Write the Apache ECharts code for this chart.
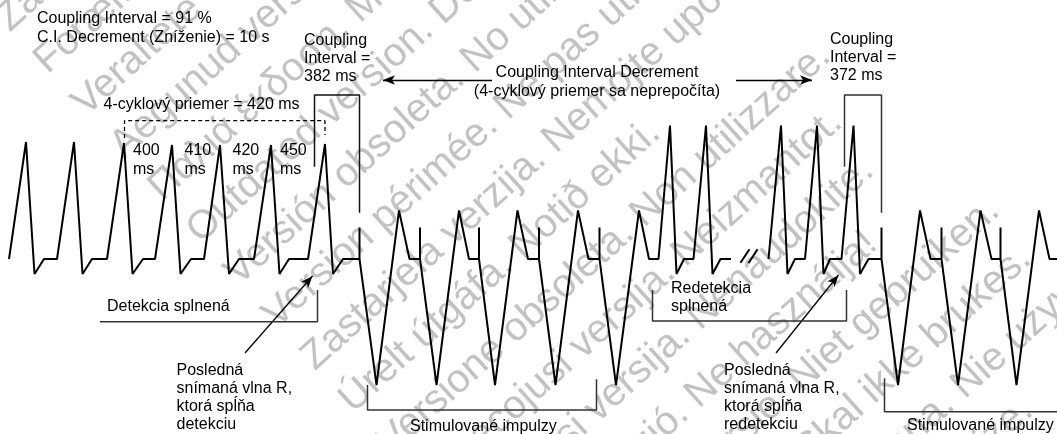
<!DOCTYPE html>
<html>
<head>
<meta charset="utf-8">
<script src="https://cdn.jsdelivr.net/npm/echarts@6.0.0/dist/echarts.min.js"></script>
<style>
  html, body { margin: 0; padding: 0; background: #fff; }
  #chart { width: 1057px; height: 434px; }
</style>
</head>
<body>
<div id="chart"></div>
<script>
// time along the strip / amplitude above the baseline (0 = baseline)
const traceBeforeBreak = [
  [9, 0],
  [26, 117], [34.5, -15], [44, 0], [57, 0],
  [74, 117], [82.5, -15], [92, 0], [107, 0],
  [124, 116], [132.5, -15], [143, 0], [155, 0],
  [172, 114], [180.5, -15], [191, 0], [204, 0],
  [220, 114], [229, -15], [239, 0], [254, 0],
  [271, 114], [279.5, -15], [289, 0], [308, 0],
  [325, 115], [333, -15], [343, 0], [359.5, 0],
  [359.5, 31.5], [359.5, 0], [376.5, -126], [399, 48.5], [409.5, 0], [420, 0],
  [420, 31.5], [420, 0], [436.5, -126], [459, 48.5], [469, 0], [479, 0],
  [479, 31.5], [479, 0], [495, -126], [517.5, 48.5], [528, 0], [539, 0],
  [539, 31.5], [539, 0], [555.5, -126], [578, 48.5], [588.5, 0], [599.5, 0],
  [599.5, 31.5], [599.5, 0], [616, -126], [639, 48.5], [649, 0], [658.5, 0],
  [670, 133.5], [676.5, -15], [684, 0], [693.5, 0],
  [706, 133.5], [712.5, -15], [720.5, 0], [731, 0]
];

const traceAfterBreak = [
  [768.5, 0], [781, 133.5], [787.5, -15], [795, 0], [805, 0],
  [817, 133.5], [823.5, -15], [830, 0], [841.5, 0],
  [853.5, 133.5], [860, -15], [868.5, 0], [881.5, 0],
  [881.5, 31.5], [881.5, 0], [898, -126], [920, 48.5], [930.5, 0], [941.5, 0],
  [941.5, 31.5], [941.5, 0], [958, -126], [980.5, 48.5], [991.5, 0], [1000.5, 0],
  [1000.5, 31.5], [1000.5, 0], [1016.5, -126], [1039, 48.5], [1049.5, 0], [1057, 0]
];

const breakMarkA = [[740.5, -3.7], [749.5, 9.7]];
const breakMarkB = [[748.5, -4.3], [757.5, 9.7]];

// brackets
const bracket382 = [[314.5, 92.3], [314.5, 164], [359.5, 164], [359.5, 46.3]];
const bracket372 = [[844.5, 92.3], [844.5, 164], [881.5, 164], [881.5, 46.3]];
const avgBracket = [[124.5, 121], [124.5, 138.3], [325, 138.3], [325, 124]];
const detectBracket = [[100, -62.7], [317.5, -62.7], [317.5, -31]];
const redetectBracket = [[652.5, -31], [652.5, -62], [846.5, -62], [846.5, -31]];
const pacedBracket1 = [[367.5, -126], [367.5, -151], [596.5, -151], [596.5, -120.3]];
const pacedBracket2 = [[884.5, -119.3], [884.5, -152.7], [1057, -152.7]];

// arrows: [from, to]
const arrows = [
  [[492, 179], [383, 179]],
  [[736, 179], [812, 179]],
  [[245, -94], [312.5, -17]],
  [[776, -94], [838.5, -16]]
];

const intervalLabels = ['400', '410', '420', '450'];

const watermarkLines = [
  'Zastaralá verze. Nepoužívat.',
  'Forældet version. Må ikke anvendes.',
  'Veraltete Version. Nicht verwenden.',
  'Aegunud versioon. Ärge kasutage.',
  'Παλιά έκδοση. Μην την χρησιμοποιείτε.',
  'Outdated version. Do not use.',
  'Versión obsoleta. No utilizar.',
  'Version périmée. Ne pas utiliser.',
  'Zastarjela verzija. Nemojte upotrebljavati.',
  'Úrelt útgáfa. Notið ekki.',
  'Versione obsoleta. Non utilizzare.',
  'Novecojusi versija. Neizmantot.',
  'Pasenusi versija. Nenaudokite.',
  'Elavult verzió. Ne használja!',
  'Verouderde versie. Niet gebruiken.',
  'Utdatert versjon. Skal ikke brukes.',
  'Wersja przeterminowana. Nie używać.',
  'Versão obsoleta. Não utilize.',
  'Versiune expirată. A nu se utiliza.',
  'Zastaraná verzia. Nepoužívať.',
  'Zastarela različica. Ne uporabite.',
  'Vanhentunut versio. Älä käytä.',
  'Föråldrad version. Använd ej.',
  'Güncel olmayan sürüm. Kullanmayın.'
];

const FONT = '16px "Liberation Sans", Arial, sans-serif';
const chart = echarts.init(document.getElementById('chart'));

const traceStyle = { color: '#000', width: 2 };
const bracketStyle = { color: '#333', width: 1.5 };

function lineSeries(data, style, extra) {
  return Object.assign({
    type: 'line',
    data: data,
    symbol: 'none',
    silent: true,
    z: 5,
    lineStyle: style
  }, extra || {});
}

// watermark: rotated lines of grey text
const wmAngle = 42 * Math.PI / 180;
const wmGap = 57;
const wmStart = [193, 236]; // "Outdated" line
const watermark = watermarkLines.map(function (t, i) {
  const k = i - 5;
  return {
    type: 'text',
    x: wmStart[0] + k * wmGap * Math.sin(wmAngle),
    y: wmStart[1] + k * wmGap * Math.cos(wmAngle),
    rotation: wmAngle,
    z: 0,
    silent: true,
    style: {
      text: t,
      font: '40px "Liberation Sans", Arial, sans-serif',
      fill: '#c2c2c2',
      textAlign: 'left',
      verticalAlign: 'middle',
      textVerticalAlign: 'middle'
    }
  };
});

function label(text, x, y, align, lh) {
  return {
    type: 'text', x: x, y: y, z: 20, silent: true,
    style: {
      text: text, font: FONT, fill: '#000',
      textAlign: align || 'left',
      verticalAlign: 'top', textVerticalAlign: 'top',
      lineHeight: lh || 18
    }
  };
}

const labels = [
  label('Coupling Interval = 91 %', 37, 10),
  label('C.I. Decrement (Zníženie) = 10 s', 37, 29),
  label('Coupling\nInterval =\n382 ms', 304, 32),
  label('Coupling\nInterval =\n372 ms', 830, 31),
  label('Coupling Interval Decrement\n(4-cyklový priemer sa neprepočíta)', 597, 63.5, 'center', 19),
  label('4-cyklový priemer = 420 ms', 103.5, 96),
  label('Detekcia splnená', 107, 297.5),
  label('Posledná\nsnímaná vlna R,\nktorá spĺňa\ndetekciu', 176.5, 361, 'left', 18.3),
  label('Redetekcia\nsplnená', 671, 280),
  label('Posledná\nsnímaná vlna R,\nktorá spĺňa\nredetekciu', 724, 361, 'left', 18.3),
  label('Stimulované impulzy', 410, 417.5),
  label('Stimulované impulzy', 907, 417)
].concat(intervalLabels.map(function (v, i) {
  return label(v + '\nms', [133, 184.5, 232.5, 280][i], 141.5, 'left', 19);
}));

chart.setOption({
  animation: false,
  backgroundColor: '#fff',
  grid: { left: 0, right: 0, top: 0, bottom: 0 },
  xAxis: { type: 'value', min: 0, max: 1057, show: false },
  yAxis: { type: 'value', min: -175, max: 259, show: false },
  graphic: { elements: watermark.concat(labels) },
  series: [
    lineSeries(traceBeforeBreak, traceStyle),
    lineSeries(traceAfterBreak, traceStyle),
    lineSeries(breakMarkA, traceStyle),
    lineSeries(breakMarkB, traceStyle),
    lineSeries(bracket382, { color: '#111', width: 1.5 }),
    lineSeries(bracket372, bracketStyle),
    lineSeries(avgBracket, { color: '#000', width: 1.3, type: [4, 3] }),
    lineSeries(detectBracket, bracketStyle),
    lineSeries(redetectBracket, bracketStyle),
    lineSeries(pacedBracket1, bracketStyle),
    lineSeries(pacedBracket2, bracketStyle, {
      markLine: {
        silent: true,
        symbol: ['none', 'arrow'],
        symbolSize: [7, 12],
        label: { show: false },
        lineStyle: { color: '#000', width: 1.3, type: 'solid' },
        data: arrows.map(function (a) {
          return [{ coord: a[0] }, { coord: a[1] }];
        })
      }
    })
  ]
});
</script>
</body>
</html>
